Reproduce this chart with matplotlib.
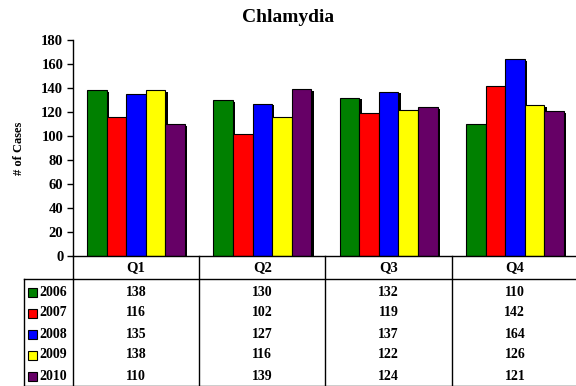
import numpy as np
import matplotlib.pyplot as plt
from matplotlib.lines import Line2D
from matplotlib.patches import Rectangle
from matplotlib.transforms import blended_transform_factory

plt.rcParams['font.family'] = ['Liberation Serif', 'DejaVu Serif']
plt.rcParams['font.weight'] = 'bold'

quarters = ['Q1', 'Q2', 'Q3', 'Q4']
years = ['2006', '2007', '2008', '2009', '2010']
cases = [
    [138, 130, 132, 110],
    [116, 102, 119, 142],
    [135, 127, 137, 164],
    [138, 116, 122, 126],
    [110, 139, 124, 121],
]
colors = ['#008000', '#FF0000', '#0000FF', '#FFFF00', '#660066']

W, H = 576, 386
fig = plt.figure(figsize=(W / 100, H / 100), dpi=100)

def fx(px):
    return px / W

def fy(py):
    return 1 - py / H

# axes: left 73, right 578, top 40, bottom 256 (pixels)
ax = fig.add_axes([fx(73), fy(256), fx(578 - 73), (256 - 40) / H])

x = np.arange(len(quarters))
bw = 0.155
for i, (yr, vals) in enumerate(zip(years, cases)):
    pos = x + (i - 2) * bw
    # shadow
    ax.bar(pos + 0.018, np.array(vals) - 1.5, bw, bottom=0, color='black', zorder=1)
    ax.bar(pos, vals, bw, color=colors[i], edgecolor='black', linewidth=0.8, zorder=2)

ax.set_xlim(-0.5, 3.5)
ax.set_ylim(0, 180)
ax.set_yticks(range(0, 181, 20))
ax.tick_params(axis='y', direction='out', length=4, width=1, labelsize=10.5, pad=3)
ax.tick_params(axis='x', bottom=False, labelbottom=False)
for lab in ax.get_yticklabels():
    lab.set_fontweight('bold')
for s in ['top', 'right']:
    ax.spines[s].set_visible(False)
ax.spines['left'].set_linewidth(1)
ax.spines['bottom'].set_linewidth(1)

ax.set_ylabel('# of Cases', fontsize=9, fontweight='bold', labelpad=12)
fig.text(0.5, fy(18), 'Chlamydia', ha='center', va='center', fontsize=14, fontweight='bold')

# data table under the axes
tr = blended_transform_factory(ax.transData, fig.transFigure)
lw = 1.0
def line(x0, y0, x1, y1):
    fig.add_artist(Line2D([fx(x0), fx(x1)], [fy(y0), fy(y1)], color='black', lw=lw))

line(73, 279, 578, 279)
line(24, 279, 73, 279)
line(24, 279, 24, 386)
line(73, 256, 73, 386)
for b in [199, 325, 452]:
    line(b, 256, b, 386)
line(24, 385.5, 578, 385.5)

for j, q in enumerate(quarters):
    t = fig.text(0, 0, q, transform=tr, ha='center', va='center',
                 fontsize=10.5, fontweight='bold')
    t.set_position((x[j], fy(268)))

row_y = [292, 313, 334, 355, 376]
for i, yr in enumerate(years):
    yc = row_y[i]
    fig.add_artist(Rectangle((fx(28), fy(yc + 4.5)), fx(9), 9 / H,
                             facecolor=colors[i], edgecolor='black', lw=0.8))
    fig.text(fx(39), fy(yc), yr, ha='left', va='center', fontsize=10, fontweight='bold')
    for j in range(len(quarters)):
        t = fig.text(0, 0, str(cases[i][j]), transform=tr, ha='center', va='center',
                     fontsize=10, fontweight='bold')
        t.set_position((x[j], fy(yc)))

fig.savefig('out.png', dpi=100)
